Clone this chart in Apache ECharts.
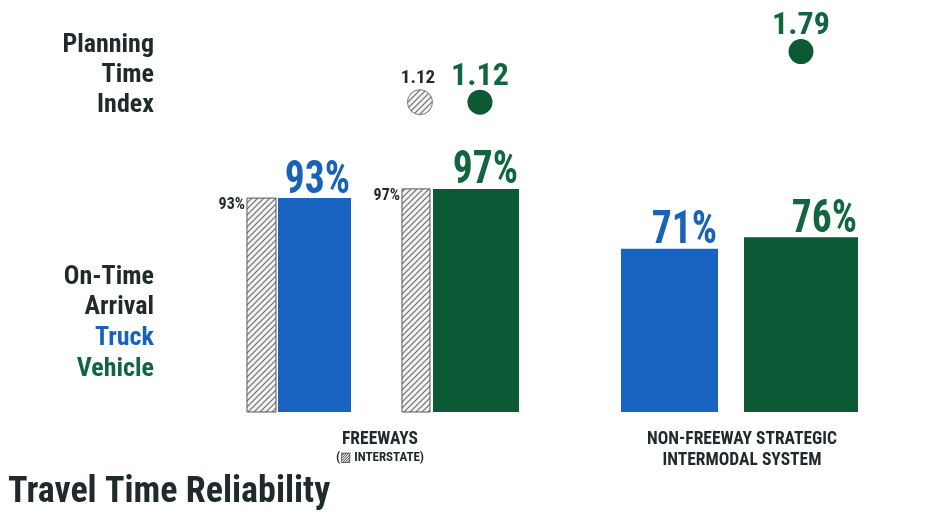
<!DOCTYPE html>
<html><head><meta charset="utf-8">
<script src="https://cdn.jsdelivr.net/npm/echarts@6/dist/echarts.min.js"></script>
<style>html,body{margin:0;padding:0;background:#fff}#c{width:952px;height:517px}</style>
</head><body><div id="c"></div>
<script>
// ---- data ----
const categories = ['FREEWAYS', 'NON-FREEWAY STRATEGIC\nINTERMODAL SYSTEM'];
const categoryNotes = ['(▨ INTERSTATE)', ''];
const truckOnTime = [93, 71];
const vehicleOnTime = [97, 76];
const truckInterstateOnTime = [93, null];
const vehicleInterstateOnTime = [97, null];
const vehiclePTI = [1.12, 1.79];
const vehicleInterstatePTI = [1.12, null];
const sideLabelsPTI = ['Planning', 'Time', 'Index'];
const sideLabelsOTA = ['On-Time', 'Arrival', 'Truck', 'Vehicle'];
const chartTitle = 'Travel Time Reliability';

// ---- style / layout ----
const FONT = "'Liberation Sans Narrow','Roboto Condensed','DejaVu Sans Condensed',sans-serif";
const DARK = '#1e2a2c', BLUE = '#1864c0', GREEN = '#0b5a35', GREEN_T = '#12663f', BLUE_T = '#1862b8';
const LAY = {
  truckInterstate:   {off: [-0.3274, 0],       w: [0.0801, 0]},
  truck:             {off: [-0.1809, -0.2003], w: [0.2017, 0.268]},
  vehicleInterstate: {off: [0.0994, 0],        w: [0.0773, 0]},
  vehicle:           {off: [0.2652, 0.163],    w: [0.2376, 0.315]}
};
const DOT_SHIFT = [0.011, 0]; // dots sit slightly right of the freeway bar centres
function hatchCanvas() {
  const c = document.createElement('canvas'); c.width = 6; c.height = 6;
  const g = c.getContext('2d');
  g.fillStyle = '#f3f3f3'; g.fillRect(0, 0, 6, 6);
  g.strokeStyle = '#6f6f6f'; g.lineWidth = 1.2;
  g.beginPath();
  g.moveTo(0, 6); g.lineTo(6, 0);
  g.moveTo(-3, 3); g.lineTo(3, -3);
  g.moveTo(3, 9); g.lineTo(9, 3);
  g.stroke();
  return c;
}
const HATCH = {image: hatchCanvas(), repeat: 'repeat'};

function toData(arr) { return arr.map((v, i) => [i, v]).filter(d => d[1] != null); }

function barSeries(name, arr, lay, fill, stroke, lbl) {
  return {
    type: 'custom', name, xAxisIndex: 0, yAxisIndex: 0, data: toData(arr),
    renderItem(params, api) {
      const ci = api.value(0), v = api.value(1);
      const base = api.coord([ci, 0]), top = api.coord([ci, v]);
      const band = api.size([1, 0])[0];
      const cx = base[0] + lay.off[ci] * band, w = lay.w[ci] * band;
      const children = [{
        type: 'rect',
        shape: {x: cx - w / 2, y: top[1], width: w, height: base[1] - top[1]},
        style: {fill, stroke: stroke || null, lineWidth: stroke ? 1 : 0}
      }];
      const txt = v + '%';
      if (lbl === 'big') {
        children.push({type: 'text', x: cx + w / 2 - 1, y: top[1] + 6, scaleX: 0.86,
          style: {text: txt, align: 'right', verticalAlign: 'bottom', fill: fill === BLUE ? BLUE_T : GREEN_T,
            font: 'bold 46px ' + FONT}});
      } else {
        children.push({type: 'text', x: cx - w / 2 - 2, y: top[1] + 7,
          style: {text: txt, align: 'right', verticalAlign: 'middle', fill: DARK,
            font: 'bold 16px ' + FONT}});
      }
      return {type: 'group', children};
    }
  };
}

function dotSeries(name, arr, lay, fill, stroke, lbl) {
  return {
    type: 'custom', name, xAxisIndex: 0, yAxisIndex: 1, data: toData(arr),
    renderItem(params, api) {
      const ci = api.value(0), v = api.value(1);
      const p = api.coord([ci, v]);
      const band = api.size([1, 0])[0];
      const cx = p[0] + (lay.off[ci] + DOT_SHIFT[ci]) * band;
      const r = 12.5;
      const big = lbl === 'big';
      return {type: 'group', children: [
        {type: 'circle', shape: {cx, cy: p[1], r}, style: {fill, stroke: stroke || null, lineWidth: stroke ? 1 : 0}},
        {type: 'text', x: cx - (big ? 0 : 2), y: p[1] - r + (big ? 3 : -2),
          style: {text: v.toFixed(2), align: 'center', verticalAlign: 'bottom',
            fill: big ? GREEN_T : DARK, font: 'bold ' + (big ? 32 : 19) + 'px ' + FONT}}
      ]};
    }
  };
}

const graphic = [];
sideLabelsPTI.forEach((t, i) => graphic.push({type: 'text', x: 154, y: 45 + i * 30,
  style: {text: t, align: 'right', verticalAlign: 'middle', fill: DARK, font: 'bold 26px ' + FONT}}));
const otaColors = [DARK, DARK, BLUE_T, GREEN_T];
sideLabelsOTA.forEach((t, i) => graphic.push({type: 'text', x: 154, y: 277 + i * 30.7,
  style: {text: t, align: 'right', verticalAlign: 'middle', fill: otaColors[i], font: 'bold 26px ' + FONT}}));
graphic.push({type: 'text', x: 8, y: 493,
  style: {text: chartTitle, align: 'left', verticalAlign: 'middle', fill: DARK, font: 'bold 36px ' + FONT}});

const chart = echarts.init(document.getElementById('c'), null, {renderer: 'canvas'});
chart.setOption({
  backgroundColor: '#ffffff',
  animation: false,
  grid: {left: 199, right: 29, top: 44, bottom: 105},
  xAxis: {
    type: 'category', data: categories,
    axisLine: {show: false}, axisTick: {show: false}, splitLine: {show: false},
    axisLabel: {
      margin: 17, interval: 0,
      formatter: (v, i) => v.split('\n').map(s => '{a|' + s + '}').join('\n') + (categoryNotes[i] ? '\n{b|' + categoryNotes[i] + '}' : ''),
      rich: {
        a: {fontFamily: FONT, fontWeight: 'bold', fontSize: 17.5, color: DARK, lineHeight: 21},
        b: {fontFamily: FONT + ",'DejaVu Sans'", fontWeight: 'bold', fontSize: 13, color: DARK, lineHeight: 15}
      }
    }
  },
  yAxis: [
    {type: 'value', min: 0, max: 160, show: false, splitLine: {show: false}},
    {type: 'value', min: -2.98, max: 1.89, show: false, splitLine: {show: false}}
  ],
  graphic,
  series: [
    barSeries('Truck interstate on-time', truckInterstateOnTime, LAY.truckInterstate, HATCH, '#555', 'small'),
    barSeries('Truck on-time', truckOnTime, LAY.truck, BLUE, null, 'big'),
    barSeries('Vehicle interstate on-time', vehicleInterstateOnTime, LAY.vehicleInterstate, HATCH, '#555', 'small'),
    barSeries('Vehicle on-time', vehicleOnTime, LAY.vehicle, GREEN, null, 'big'),
    dotSeries('Vehicle interstate PTI', vehicleInterstatePTI, LAY.vehicleInterstate, HATCH, '#777', 'small'),
    dotSeries('Vehicle PTI', vehiclePTI, LAY.vehicle, GREEN, null, 'big')
  ]
});
</script>
</body></html>
